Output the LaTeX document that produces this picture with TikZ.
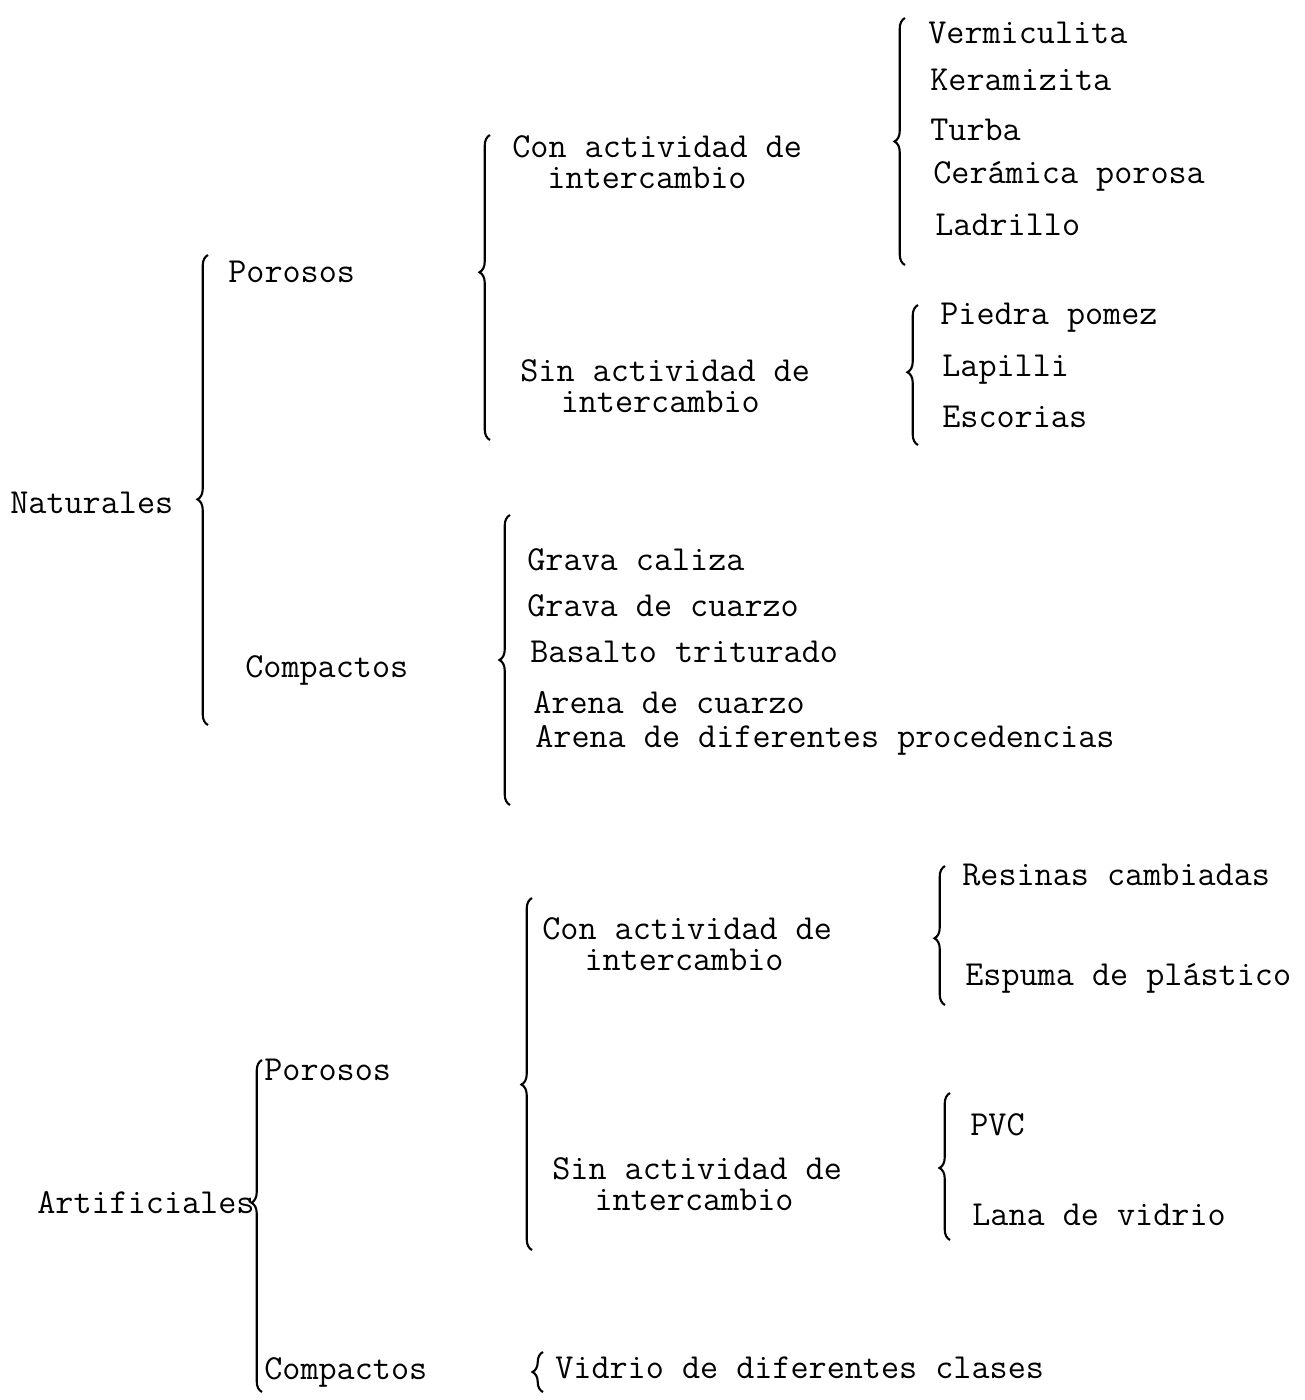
\documentclass[tikz,border=0pt]{standalone}
\usepackage{fontspec}
\usetikzlibrary{decorations.pathreplacing}

\begin{document}
\begin{tikzpicture}[x=0.02cm,y=-0.02cm,
 every node/.style={font=\ttfamily\fontsize{20}{18}\selectfont,anchor=west,inner sep=0pt},
 two/.style={align=left},
 lbrace/.style={decorate,decoration={brace,amplitude=6pt,aspect=#1},line width=1.2pt},
 lbrace/.default=0.5]
 \useasboundingbox (0,0) rectangle (1305,1400);
 % naturales
 \node (nat) at (10,503) {Naturales};
 \coordinate (bn_t) at (208,255); \coordinate (bn_b) at (208,725);
 \node (n_por) at (228,272) {Porosos};
 \node (n_comp) at (245,670) {Compactos};
 \coordinate (bnp_t) at (490,135); \coordinate (bnp_b) at (490,440);
 \node[two] (n_con) at (512,162) {Con actividad de\\\hspace*{1em}intercambio};
 \node[two] (n_sin) at (520,386) {Sin actividad de\\\hspace*{1.15em}intercambio};
 \coordinate (bnc_t) at (905,18); \coordinate (bnc_b) at (905,265);
 \node (verm) at (928,33) {Vermiculita};
 \node (kera) at (930,80) {Keramizita};
 \node (turba) at (930,130) {Turba};
 \node (ceram) at (933,176) {Cerámica porosa};
 \node (ladr) at (935,225) {Ladrillo};
 \coordinate (bns_t) at (918,305); \coordinate (bns_b) at (918,445);
 \node (pomez) at (940,318) {Piedra pomez};
 \node (lapi) at (942,370) {Lapilli};
 \node (esco) at (942,417) {Escorias};
 \coordinate (bnk_t) at (510,515); \coordinate (bnk_b) at (510,805);
 \node (gcal) at (527,560) {Grava caliza};
 \node (gcua) at (527,606) {Grava de cuarzo};
 \node (basal) at (530,652) {Basalto triturado};
 \node (acua) at (533,703) {Arena de cuarzo};
 \node (adif) at (535,740) {Arena de diferentes procedencias};
 % artificiales
 \node (art) at (37,1203) {Artificiales};
 \coordinate (ba_t) at (262,1060); \coordinate (ba_b) at (262,1392);
 \node (a_por) at (264,1070) {Porosos};
 \node (a_comp) at (264,1372) {Compactos};
 \coordinate (bap_t) at (532,898); \coordinate (bap_b) at (532,1250);
 \node[two] (a_con) at (542,944) {Con actividad de\\\hspace*{1.2em}intercambio};
 \node[two] (a_sin) at (552,1184) {Sin actividad de\\\hspace*{1.2em}intercambio};
 \coordinate (bac_t) at (945,866); \coordinate (bac_b) at (945,1005);
 \node (resin) at (962,875) {Resinas cambiadas};
 \node (espum) at (965,978) {Espuma de plástico};
 \coordinate (bas_t) at (950,1093); \coordinate (bas_b) at (950,1240);
 \node (pvc) at (970,1125) {PVC};
 \node (lana) at (972,1215) {Lana de vidrio};
 \coordinate (bak_t) at (543,1352); \coordinate (bak_b) at (543,1392);
 \node (vidr) at (555,1368) {Vidrio de diferentes clases};
 \draw[lbrace=0.48] (bn_b) -- (bn_t);
 \draw[lbrace=0.55] (bnp_b) -- (bnp_t);
 \draw[lbrace] (bnc_b) -- (bnc_t);
 \draw[lbrace=0.52] (bns_b) -- (bns_t);
 \draw[lbrace] (bnk_b) -- (bnk_t);
 \draw[lbrace=0.57] (ba_b) -- (ba_t);
 \draw[lbrace=0.47] (bap_b) -- (bap_t);
 \draw[lbrace=0.48] (bac_b) -- (bac_t);
 \draw[lbrace=0.49] (bas_b) -- (bas_t);
 \draw[lbrace] (bak_b) -- (bak_t);
\end{tikzpicture}
\end{document}
